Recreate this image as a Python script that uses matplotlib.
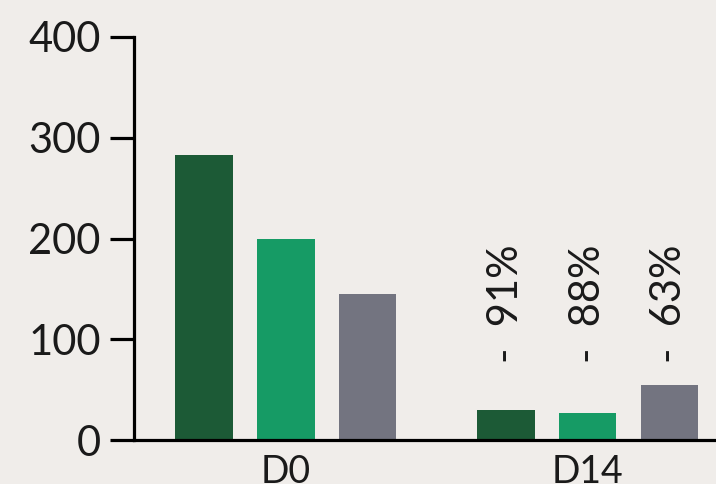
import matplotlib.pyplot as plt
import numpy as np

groups = ['D0', 'D14']
series_a = [283, 30]    # dark green
series_b = [200, 27]    # green
series_c = [145, 55]    # gray
change_labels = ['-  91%', '-  88%', '-  63%']
yticks = [0, 100, 200, 300, 400]

bg = '#f0edea'
colors = ['#1c5a36', '#169b65', '#737480']

plt.rcParams['font.family'] = ['Lato', 'DejaVu Sans']

fig = plt.figure(figsize=(7.16, 4.84), dpi=100, facecolor=bg)
ax = fig.add_axes([134 / 716, 44 / 484, (716 - 134) / 716, (440 - 37) / 484])
ax.set_facecolor(bg)

x = np.arange(len(groups))
off = 0.2715
w = 0.192
ax.bar(x - off, series_a, w, color=colors[0])
ax.bar(x, series_b, w, color=colors[1])
ax.bar(x + off, series_c, w, color=colors[2])

# percentage change annotations above D14 bars
for i, lab in enumerate(change_labels):
    ax.text(x[1] + (i - 1) * off, 76, lab, rotation=90, ha='center', va='bottom',
            fontsize=30, color='#1a1a1a')

ax.set_xlim(-0.5017, 1.4255)
ax.set_ylim(0, 400)
ax.set_yticks(yticks)
ax.set_xticks(x)
ax.set_xticklabels(groups)

for s in ['top', 'right']:
    ax.spines[s].set_visible(False)
for s in ['left', 'bottom']:
    ax.spines[s].set_linewidth(2.3)
    ax.spines[s].set_color('black')

ax.tick_params(axis='y', length=17, width=2.3, pad=7, labelsize=30, labelcolor='#1a1a1a')
ax.tick_params(axis='x', length=0, pad=10, labelsize=27, labelcolor='#1a1a1a')

plt.savefig('out.png', dpi=100, facecolor=bg)
